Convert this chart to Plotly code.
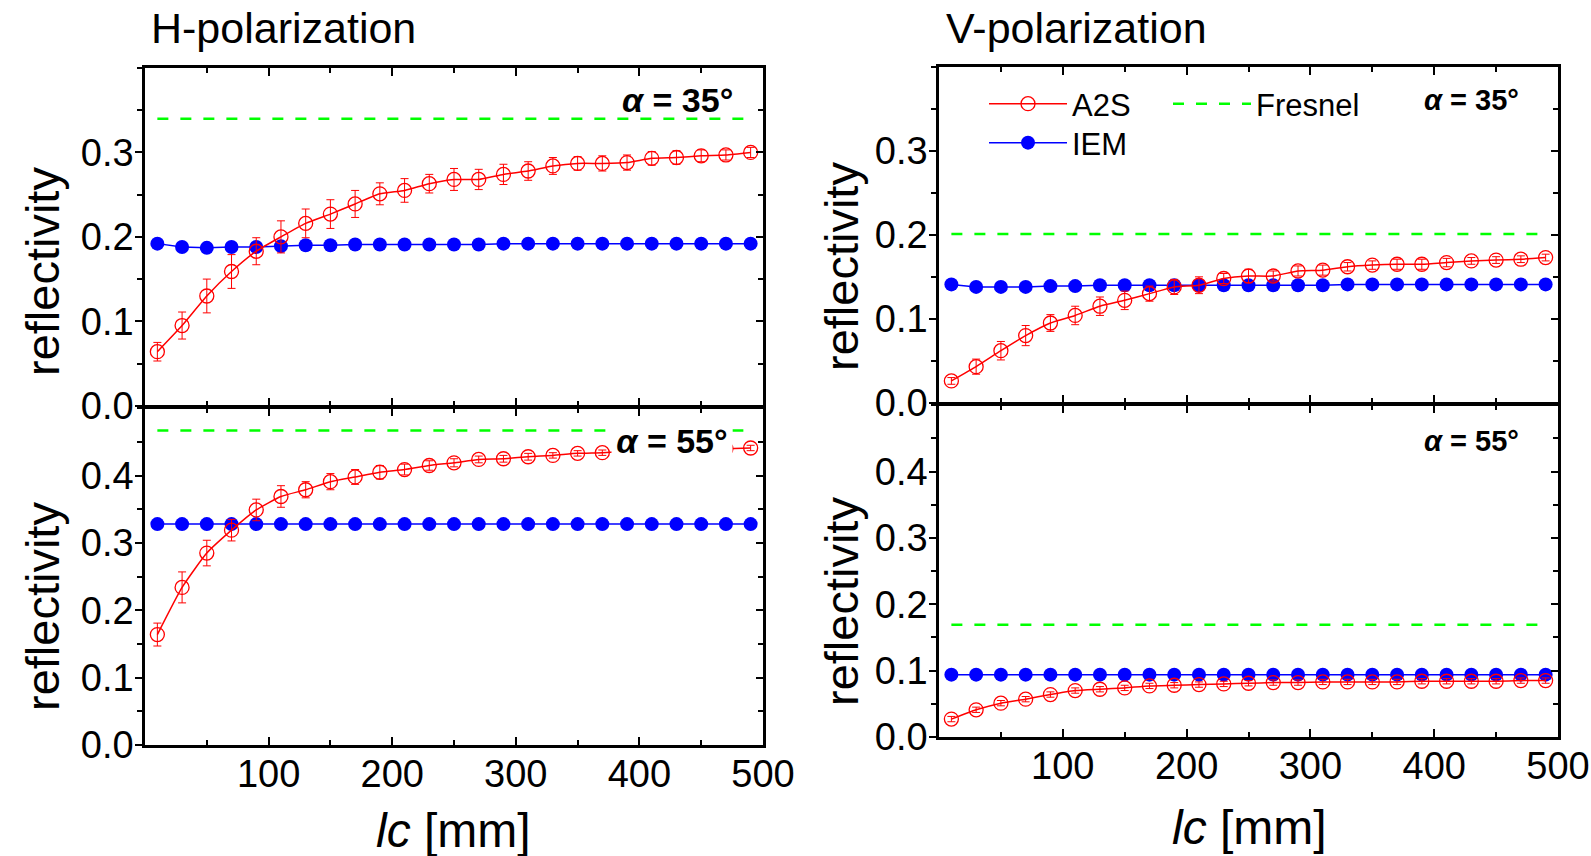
import plotly.graph_objects as go

W, H = 1591, 856
FONT = "Liberation Sans, Arial, sans-serif"

RED, BLUE, GREEN = "#ff0000", "#0000ff", "#00ff00"

# correlation length lc [mm]
lc = [10, 30, 50, 70, 90, 110, 130, 150, 170, 190, 210, 230, 250,
      270, 290, 310, 330, 350, 370, 390, 410, 430, 450, 470, 490]

# H-polarization, alpha = 35 deg
h35_a2s = [0.064, 0.095, 0.130, 0.159, 0.183, 0.200, 0.216, 0.227, 0.239, 0.251, 0.255, 0.263, 0.268,
           0.268, 0.274, 0.278, 0.284, 0.287, 0.287, 0.288, 0.293, 0.294, 0.296, 0.297, 0.300]
h35_a2s_err = [0.011, 0.016, 0.020, 0.020, 0.016, 0.019, 0.017, 0.017, 0.016, 0.013, 0.014, 0.011, 0.013,
               0.012, 0.012, 0.011, 0.010, 0.008, 0.009, 0.009, 0.008, 0.008, 0.007, 0.006, 0.006]
h35_iem = [0.192, 0.188, 0.187, 0.188, 0.188, 0.189, 0.190, 0.190, 0.191, 0.191, 0.191, 0.191, 0.191,
           0.191, 0.192, 0.192, 0.192, 0.192, 0.192, 0.192, 0.192, 0.192, 0.192, 0.192, 0.192]
h35_fresnel = 0.340

# H-polarization, alpha = 55 deg
h55_a2s = [0.164, 0.234, 0.285, 0.319, 0.349, 0.369, 0.379, 0.391, 0.398, 0.405, 0.409, 0.415, 0.419,
           0.424, 0.425, 0.428, 0.430, 0.433, 0.434, 0.436, 0.437, 0.438, 0.439, 0.440, 0.441]
h55_a2s_err = [0.017, 0.023, 0.019, 0.016, 0.016, 0.016, 0.012, 0.012, 0.011, 0.010, 0.008, 0.007, 0.006,
               0.005, 0.005, 0.005, 0.004, 0.004, 0.004, 0.004, 0.004, 0.004, 0.004, 0.004, 0.004]
h55_iem = [0.328, 0.328, 0.328, 0.328, 0.328, 0.328, 0.328, 0.328, 0.328, 0.328, 0.328, 0.328, 0.328,
           0.328, 0.328, 0.328, 0.328, 0.328, 0.328, 0.328, 0.328, 0.328, 0.328, 0.328, 0.328]
h55_fresnel = 0.467

# V-polarization, alpha = 35 deg
v35_a2s = [0.026, 0.043, 0.062, 0.080, 0.095, 0.104, 0.115, 0.122, 0.130, 0.138, 0.140, 0.148, 0.151,
           0.151, 0.157, 0.158, 0.162, 0.164, 0.165, 0.165, 0.167, 0.169, 0.170, 0.171, 0.173]
v35_a2s_err = [0.004, 0.009, 0.011, 0.012, 0.010, 0.011, 0.011, 0.011, 0.009, 0.009, 0.010, 0.006, 0.008,
               0.006, 0.006, 0.006, 0.005, 0.005, 0.006, 0.006, 0.005, 0.004, 0.004, 0.004, 0.004]
v35_iem = [0.141, 0.138, 0.138, 0.138, 0.139, 0.139, 0.140, 0.140, 0.140, 0.140, 0.140, 0.140, 0.140,
           0.140, 0.140, 0.140, 0.141, 0.141, 0.141, 0.141, 0.141, 0.141, 0.141, 0.141, 0.141]
v35_fresnel = 0.201

# V-polarization, alpha = 55 deg
v55_a2s = [0.027, 0.041, 0.051, 0.057, 0.064, 0.070, 0.072, 0.074, 0.077, 0.078, 0.079, 0.080, 0.081,
           0.082, 0.082, 0.083, 0.083, 0.083, 0.083, 0.084, 0.084, 0.084, 0.084, 0.085, 0.085]
v55_a2s_err = [0.004, 0.004, 0.004, 0.004, 0.004, 0.004, 0.004, 0.004, 0.004, 0.004, 0.004, 0.004, 0.004,
               0.004, 0.004, 0.004, 0.004, 0.004, 0.004, 0.004, 0.004, 0.004, 0.004, 0.004, 0.004]
v55_iem = [0.094, 0.094, 0.094, 0.094, 0.094, 0.094, 0.094, 0.094, 0.094, 0.094, 0.094, 0.094, 0.094,
           0.094, 0.094, 0.094, 0.094, 0.094, 0.094, 0.094, 0.094, 0.094, 0.094, 0.094, 0.094]
v55_fresnel = 0.169

panels = [
    # (xaxis, yaxis, right-hand yaxis, a2s, err, iem, fresnel, show legend)
    ("x", "y", "y5", h35_a2s, h35_a2s_err, h35_iem, h35_fresnel, False),
    ("x2", "y2", "y6", h55_a2s, h55_a2s_err, h55_iem, h55_fresnel, False),
    ("x3", "y3", "y7", v35_a2s, v35_a2s_err, v35_iem, v35_fresnel, True),
    ("x4", "y4", "y8", v55_a2s, v55_a2s_err, v55_iem, v55_fresnel, False),
]

fig = go.Figure()
for xa, ya, yr, a2s, err, iem, fres, leg in panels:
    fig.add_trace(go.Scatter(
        x=lc, y=iem, xaxis=xa, yaxis=ya, mode="lines+markers",
        line=dict(color=BLUE, width=1.5),
        marker=dict(symbol="circle", size=14, color=BLUE),
        name="IEM", legend="legend3", showlegend=leg))
    fig.add_trace(go.Scatter(
        x=lc, y=a2s, xaxis=xa, yaxis=ya, mode="lines+markers",
        line=dict(color=RED, width=1.5, shape="spline", smoothing=0.5),
        marker=dict(symbol="circle-open", size=14, color=RED, line=dict(width=1.3)),
        error_y=dict(type="data", array=err, color=RED, thickness=1, width=4),
        name="A2S", legend="legend", showlegend=leg))
    # Fresnel level sits on the right-hand axis (same range) so that axis is drawn
    fig.add_trace(go.Scatter(
        x=[lc[0], lc[-1]], y=[fres, fres], xaxis=xa, yaxis=yr, mode="lines",
        line=dict(color=GREEN, width=2.5, dash="11px,12px"),
        name="Fresnel", legend="legend2", showlegend=leg))


def px_x(p):
    return p / W


def px_y(p):
    return 1 - p / H


LW = 2.5
xdom_left = [px_x(145), px_x(763)]
xdom_right = [px_x(939), px_x(1558)]
# shared borders: axis lines sit outside the domain by half a line width
ydoms = {
    "y": [px_y(407 - LW / 2), px_y(68)],
    "y2": [px_y(745), px_y(407 + LW / 2)],
    "y3": [px_y(404 - LW / 2), px_y(67)],
    "y4": [px_y(737), px_y(404 + LW / 2)],
}
yranges = {"y": [0, 0.4], "y2": [0, 0.5], "y3": [0, 0.4], "y4": [0, 0.5]}
ytickvals = {
    "y": [0, 0.1, 0.2, 0.3],
    "y2": [0, 0.1, 0.2, 0.3, 0.4],
    "y3": [0, 0.1, 0.2, 0.3],
    "y4": [0, 0.1, 0.2, 0.3, 0.4],
}

tickfont = dict(family=FONT, size=38, color="black")
xticks = [100, 200, 300, 400, 500]

axis_common = dict(showline=True, linecolor="black", linewidth=LW, showgrid=False,
                   zeroline=False, tickcolor="black", tickwidth=2, automargin=False)

layout = dict(
    width=W, height=H, margin=dict(l=0, r=0, t=0, b=0, autoexpand=False),
    paper_bgcolor="white", plot_bgcolor="white",
    font=dict(family=FONT, color="black"),
)

xmap = {"x": ("y", xdom_left, False), "x2": ("y2", xdom_left, True),
        "x3": ("y3", xdom_right, False), "x4": ("y4", xdom_right, True)}
for xa, (ya, dom, labels) in xmap.items():
    key = "xaxis" if xa == "x" else "xaxis" + xa[1:]
    layout[key] = dict(
        axis_common, domain=dom, anchor=ya, range=[0, 500],
        tickmode="array", tickvals=xticks, ticktext=[str(v) for v in xticks],
        showticklabels=labels, ticks="inside", ticklen=8, mirror="ticks",
        tickfont=tickfont, ticklabelstandoff=-6,
        minor=dict(ticks="inside", dtick=50, tick0=0, ticklen=5, tickcolor="black", tickwidth=2),
    )

ykeys = ["y", "y2", "y3", "y4"]
xanchors = ["x", "x2", "x3", "x4"]
for i, ya in enumerate(ykeys):
    key = "yaxis" if ya == "y" else "yaxis" + ya[1:]
    tv = ytickvals[ya]
    layout[key] = dict(
        axis_common, domain=ydoms[ya], anchor=xanchors[i], range=yranges[ya],
        tickmode="array", tickvals=tv, ticktext=["%.1f" % v for v in tv],
        ticks="outside", ticklen=7, tickfont=tickfont, mirror=False, ticklabelstandoff=-6,
        minor=dict(ticks="outside", dtick=0.05, tick0=0, ticklen=5, tickcolor="black", tickwidth=2),
    )
    # right-hand frame edge with inward ticks
    rkey = "yaxis%d" % (i + 5)
    layout[rkey] = dict(
        axis_common, overlaying=ya, anchor=xanchors[i], side="right", range=yranges[ya],
        tickmode="array", tickvals=tv, showticklabels=False,
        ticks="inside", ticklen=7,
        minor=dict(ticks="inside", dtick=0.05, tick0=0, ticklen=5, tickcolor="black", tickwidth=2),
    )

legend_font = dict(family=FONT, size=31, color="black")
leg_common = dict(xanchor="left", yanchor="middle", bgcolor="rgba(0,0,0,0)",
                  font=legend_font, itemwidth=78)
layout["legend"] = dict(leg_common, x=px_x(984), y=px_y(104))
layout["legend2"] = dict(leg_common, x=px_x(1168), y=px_y(104))
layout["legend3"] = dict(leg_common, x=px_x(984), y=px_y(143))

fig.update_layout(**layout)

annotations = []


def note(text, x, y, size, **kw):
    annotations.append(dict(text=text, x=px_x(x), y=px_y(y), xref="paper", yref="paper",
                            showarrow=False, font=dict(family=FONT, size=size, color="black"), **kw))


note("H-polarization", 149, 28, 43, xanchor="left", yanchor="middle")
note("V-polarization", 944, 28, 43, xanchor="left", yanchor="middle")

for yc in (272, 607):
    note("reflectivity", 42, yc, 47, textangle=-90, xanchor="center", yanchor="middle")
for yc in (267, 602):
    note("reflectivity", 841, yc, 47, textangle=-90, xanchor="center", yanchor="middle")

note("<i>lc</i> [mm]", 453, 830, 48, xanchor="center", yanchor="middle")
note("<i>lc</i> [mm]", 1249, 827, 48, xanchor="center", yanchor="middle")

note("<b><i>α</i> = 35°</b>", 677, 100, 34, xanchor="center", yanchor="middle")
note("<b><i>α</i> = 55°</b>", 672, 441, 34, xanchor="center", yanchor="middle",
     bgcolor="white", width=112, height=40, borderpad=4)
note("<b><i>α</i> = 35°</b>", 1471, 100, 29, xanchor="center", yanchor="middle")
note("<b><i>α</i> = 55°</b>", 1471, 441, 29, xanchor="center", yanchor="middle")

fig.update_layout(annotations=annotations)

fig.write_html("out.html")
